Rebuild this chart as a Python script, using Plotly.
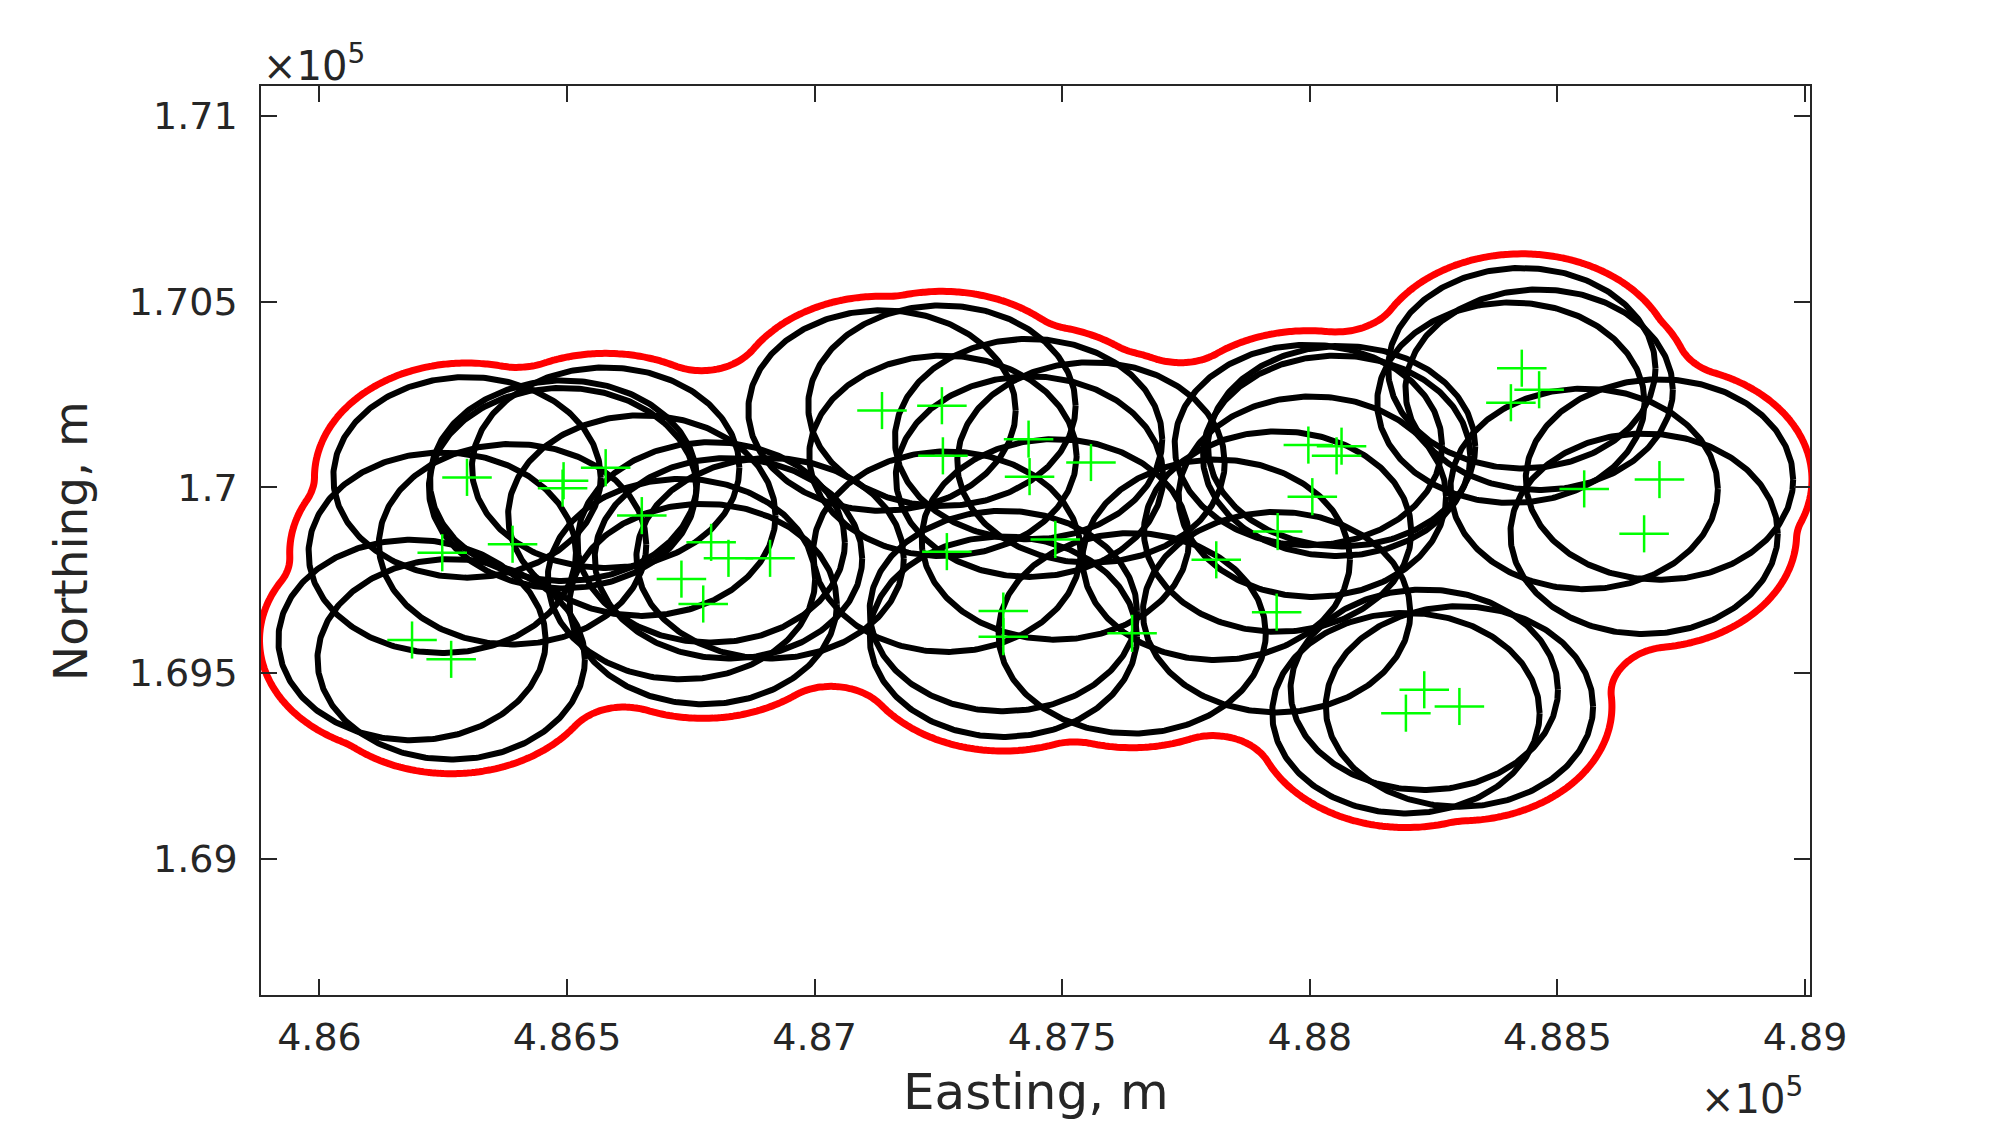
import numpy as np
import plotly.graph_objects as go

# ---------------- data (metres) ----------------
cross_x = [486298, 486493, 486491, 486578, 486651, 486390, 486248, 486791, 486826, 486910,
           486731, 486775, 486187, 486266, 487136, 487257, 487432, 487259, 487558, 487434,
           487486, 487267, 487381, 487381, 487641, 487811, 487935, 487933, 487997, 488064,
           488054, 488005, 488428, 488406, 488463, 488554, 488706, 488675, 488231, 488194,
           488302]
cross_y = [170027, 170018, 169998, 170053, 169924, 169847, 169824, 169852, 169809, 169809,
           169753, 169686, 169589, 169537, 170207, 170220, 170130, 170085, 170067, 170029,
           169860, 169827, 169667, 169598, 169607, 169805, 169881, 169664, 170114, 170111,
           170085, 169975, 170321, 170228, 170263, 169996, 170021, 169875, 169455, 169392,
           169410]

circle_x = list(cross_x)
circle_y = list(cross_y)
circle_r = [270] * len(cross_x)

boundary_radius = 308   # buffer radius used for the red outline
closing_radius = 120    # concavities narrower than this are bridged
cross_half = 50         # half arm length of the '+' markers

x_ticks = [486000, 486500, 487000, 487500, 488000, 488500, 489000]
x_labels = ["4.86", "4.865", "4.87", "4.875", "4.88", "4.885", "4.89"]
y_ticks = [169000, 169500, 170000, 170500, 171000]
y_labels = ["1.69", "1.695", "1.7", "1.705", "1.71"]
x_range = [485882, 489010]
y_range = [168633, 171081]

# ---------------- black circles ----------------
theta = np.linspace(0, 2 * np.pi, 361)
bx, by = [], []
for cx0, cy0, r in zip(circle_x, circle_y, circle_r):
    bx += list(cx0 + r * np.cos(theta)) + [None]
    by += list(cy0 + r * np.sin(theta)) + [None]

# ---------------- red outline: closed union of buffer discs ----------------
cx = np.array(cross_x, float)
cy = np.array(cross_y, float)
R = boundary_radius
Rd = R + closing_radius
phi = np.linspace(0, 2 * np.pi, 720, endpoint=False)
samples = []
for i in range(len(cx)):
    px = cx[i] + Rd * np.cos(phi)
    py = cy[i] + Rd * np.sin(phi)
    dd = np.sqrt((px[:, None] - cx[None, :]) ** 2 + (py[:, None] - cy[None, :]) ** 2)
    dd[:, i] = np.inf
    keep = dd.min(axis=1) >= Rd - 1e-6
    samples.append(np.column_stack([px[keep], py[keep]]))
B = np.vstack(samples)

step = 8.0
gxv = np.arange(cx.min() - R - 60, cx.max() + R + 60, step)
gyv = np.arange(cy.min() - R - 60, cy.max() + R + 60, step)
GX, GY = np.meshgrid(gxv, gyv)
P = np.column_stack([GX.ravel(), GY.ravel()])
dist_b = np.empty(len(P))
for s in range(0, len(P), 4000):
    chunk = P[s:s + 4000]
    d = np.sqrt((chunk[:, 0:1] - B[None, :, 0]) ** 2 + (chunk[:, 1:2] - B[None, :, 1]) ** 2)
    dist_b[s:s + 4000] = d.min(axis=1)
dc = np.sqrt((P[:, 0:1] - cx[None, :]) ** 2 + (P[:, 1:2] - cy[None, :]) ** 2).min(axis=1)
inside = dc <= Rd
field = (np.where(inside, dist_b, -dist_b) - closing_radius).reshape(GX.shape)

# ---------------- green crosses ----------------
gx, gy = [], []
for x0, y0 in zip(cross_x, cross_y):
    gx += [x0 - cross_half, x0 + cross_half, None, x0, x0, None]
    gy += [y0, y0, None, y0 - cross_half, y0 + cross_half, None]

fig = go.Figure()
fig.add_trace(go.Scatter(x=bx, y=by, mode="lines", line=dict(color="black", width=6),
                         hoverinfo="skip", showlegend=False))
fig.add_trace(go.Contour(x=gxv, y=gyv, z=field, showscale=False, hoverinfo="skip",
                         contours=dict(start=0, end=0, size=1, coloring="lines"),
                         colorscale=[[0, "#ff0000"], [1, "#ff0000"]],
                         line=dict(width=7, smoothing=0.8)))
fig.add_trace(go.Scatter(x=gx, y=gy, mode="lines", line=dict(color="#00ff00", width=2.5),
                         hoverinfo="skip", showlegend=False))

axis_common = dict(
    showgrid=False, zeroline=False, showline=True, linecolor="#262626", linewidth=1.5,
    mirror="ticks", ticks="inside", ticklen=16, tickwidth=1.5, tickcolor="#262626",
    tickfont=dict(family="DejaVu Sans", size=38, color="#262626"),
)

fig.update_layout(
    width=2000, height=1125,
    margin=dict(l=261, r=190, t=86, b=130),
    paper_bgcolor="white", plot_bgcolor="white",
    xaxis=dict(range=x_range, tickmode="array", tickvals=x_ticks, ticktext=x_labels,
               ticklabelstandoff=8, **axis_common),
    yaxis=dict(range=y_range, tickmode="array", tickvals=y_ticks, ticktext=y_labels,
               ticklabelstandoff=14, **axis_common),
    annotations=[
        dict(text="Easting, m", xref="paper", yref="paper", x=0.5, y=-0.107,
             xanchor="center", yanchor="middle", showarrow=False, borderpad=0,
             font=dict(family="DejaVu Sans", size=50, color="#262626")),
        dict(text="Northing, m", xref="paper", yref="paper", x=-0.123, y=0.5,
             xanchor="center", yanchor="middle", textangle=-90, showarrow=False,
             font=dict(family="DejaVu Sans", size=47, color="#262626")),
        dict(text="×10<sup>5</sup>", xref="paper", yref="paper", x=0.0, y=0.994,
             xanchor="left", yanchor="bottom", showarrow=False,
             font=dict(family="DejaVu Sans", size=40, color="#262626")),
        dict(text="×10<sup>5</sup>", xref="paper", yref="paper", x=0.997, y=-0.08,
             xanchor="right", yanchor="top", showarrow=False,
             font=dict(family="DejaVu Sans", size=40, color="#262626")),
    ],
)

fig.write_html("out.html")
